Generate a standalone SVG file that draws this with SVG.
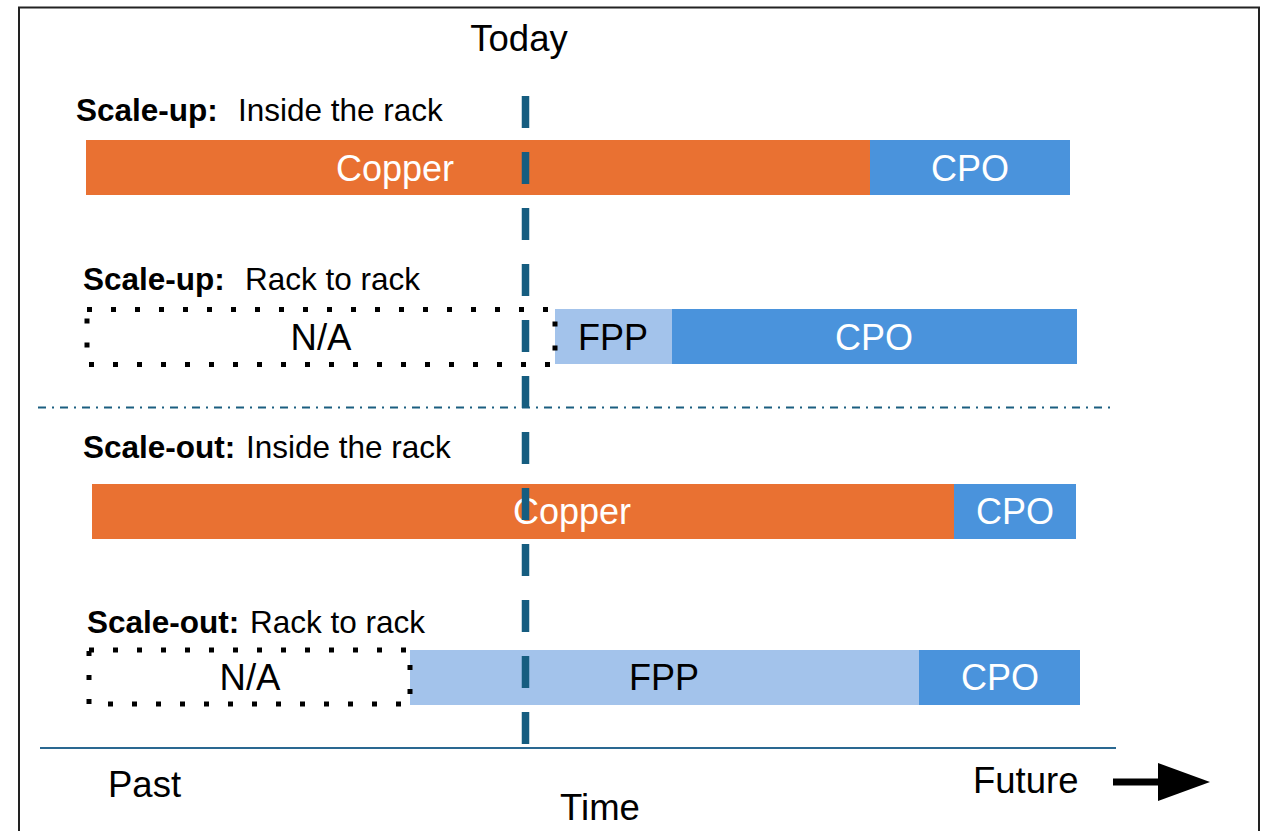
<svg xmlns="http://www.w3.org/2000/svg" width="1269" height="831" viewBox="0 0 1269 831">
<style>
text{font-family:"Liberation Sans",Arial,sans-serif;}
.lbl{font-size:31.5px;fill:#000;}
.b{font-weight:bold;}
.bar{font-size:36px;fill:#fff;text-anchor:middle;}
.na{font-size:36.5px;fill:#000;text-anchor:middle;}
.ax{font-size:36.5px;fill:#000;}
.cu{fill:#E97132;}
.cpo{fill:#4A93DC;}
.fpp{fill:#A3C3EB;}
.dot{fill:none;stroke:#000;stroke-width:5;stroke-dasharray:5 19;}
</style>
<rect x="19" y="7.5" width="1240" height="840" fill="#fff" stroke="#222" stroke-width="2"/>
<text class="ax" x="519" y="51" text-anchor="middle">Today</text>

<g id="row1">
<text class="lbl b" x="76" y="121">Scale-up:</text>
<text class="lbl" x="238" y="121">Inside the rack</text>
<rect class="cu" x="86" y="140" width="784" height="55"/>
<rect class="cpo" x="870" y="140" width="200" height="55"/>
<text class="bar" x="395" y="181">Copper</text>
<text class="bar" x="970" y="181">CPO</text>
</g>

<g id="row2">
<text class="lbl b" x="83" y="290">Scale-up:</text>
<text class="lbl" x="245" y="290">Rack to rack</text>
<rect class="fpp" x="555" y="309" width="117" height="55"/>
<rect class="cpo" x="672" y="309" width="405" height="55"/>
<rect class="dot" x="87" y="309.5" width="468" height="55"/>
<text class="na" x="321" y="350">N/A</text>
<text class="bar" x="613" y="350" style="fill:#000">FPP</text>
<text class="bar" x="874" y="350">CPO</text>
</g>

<g id="row3">
<text class="lbl b" x="83" y="458">Scale-out:</text>
<text class="lbl" x="246" y="458">Inside the rack</text>
<rect class="cu" x="92" y="484" width="862" height="55"/>
<rect class="cpo" x="954" y="484" width="122" height="55"/>
<text class="bar" x="572" y="524">Copper</text>
<text class="bar" x="1015" y="524">CPO</text>
</g>

<g id="row4">
<text class="lbl b" x="87" y="633">Scale-out:</text>
<text class="lbl" x="250" y="633">Rack to rack</text>
<rect class="fpp" x="410" y="650" width="509" height="55"/>
<rect class="cpo" x="919" y="650" width="161" height="55"/>
<rect class="dot" x="89" y="650" width="321" height="54"/>
<text class="na" x="250" y="690">N/A</text>
<text class="bar" x="664" y="690" style="fill:#000">FPP</text>
<text class="bar" x="1000" y="690">CPO</text>
</g>

<g id="connectors">
<line x1="38" y1="407.5" x2="1114" y2="407.5" stroke="#1B5E80" stroke-width="2" stroke-dasharray="8 6 2 6"/>
<line x1="525.5" y1="96" x2="525.5" y2="745" stroke="#165D80" stroke-width="7.5" stroke-dasharray="32 24"/>
<line x1="40" y1="748" x2="1116" y2="748" stroke="#2A6891" stroke-width="2"/>
<line x1="1113" y1="782" x2="1162" y2="782" stroke="#000" stroke-width="7"/>
<polygon points="1158,763 1210,782 1158,801" fill="#000"/>
</g>

<text class="ax" x="108" y="797">Past</text>
<text class="ax" x="600" y="820" text-anchor="middle">Time</text>
<text class="ax" x="973" y="793">Future</text>
</svg>
